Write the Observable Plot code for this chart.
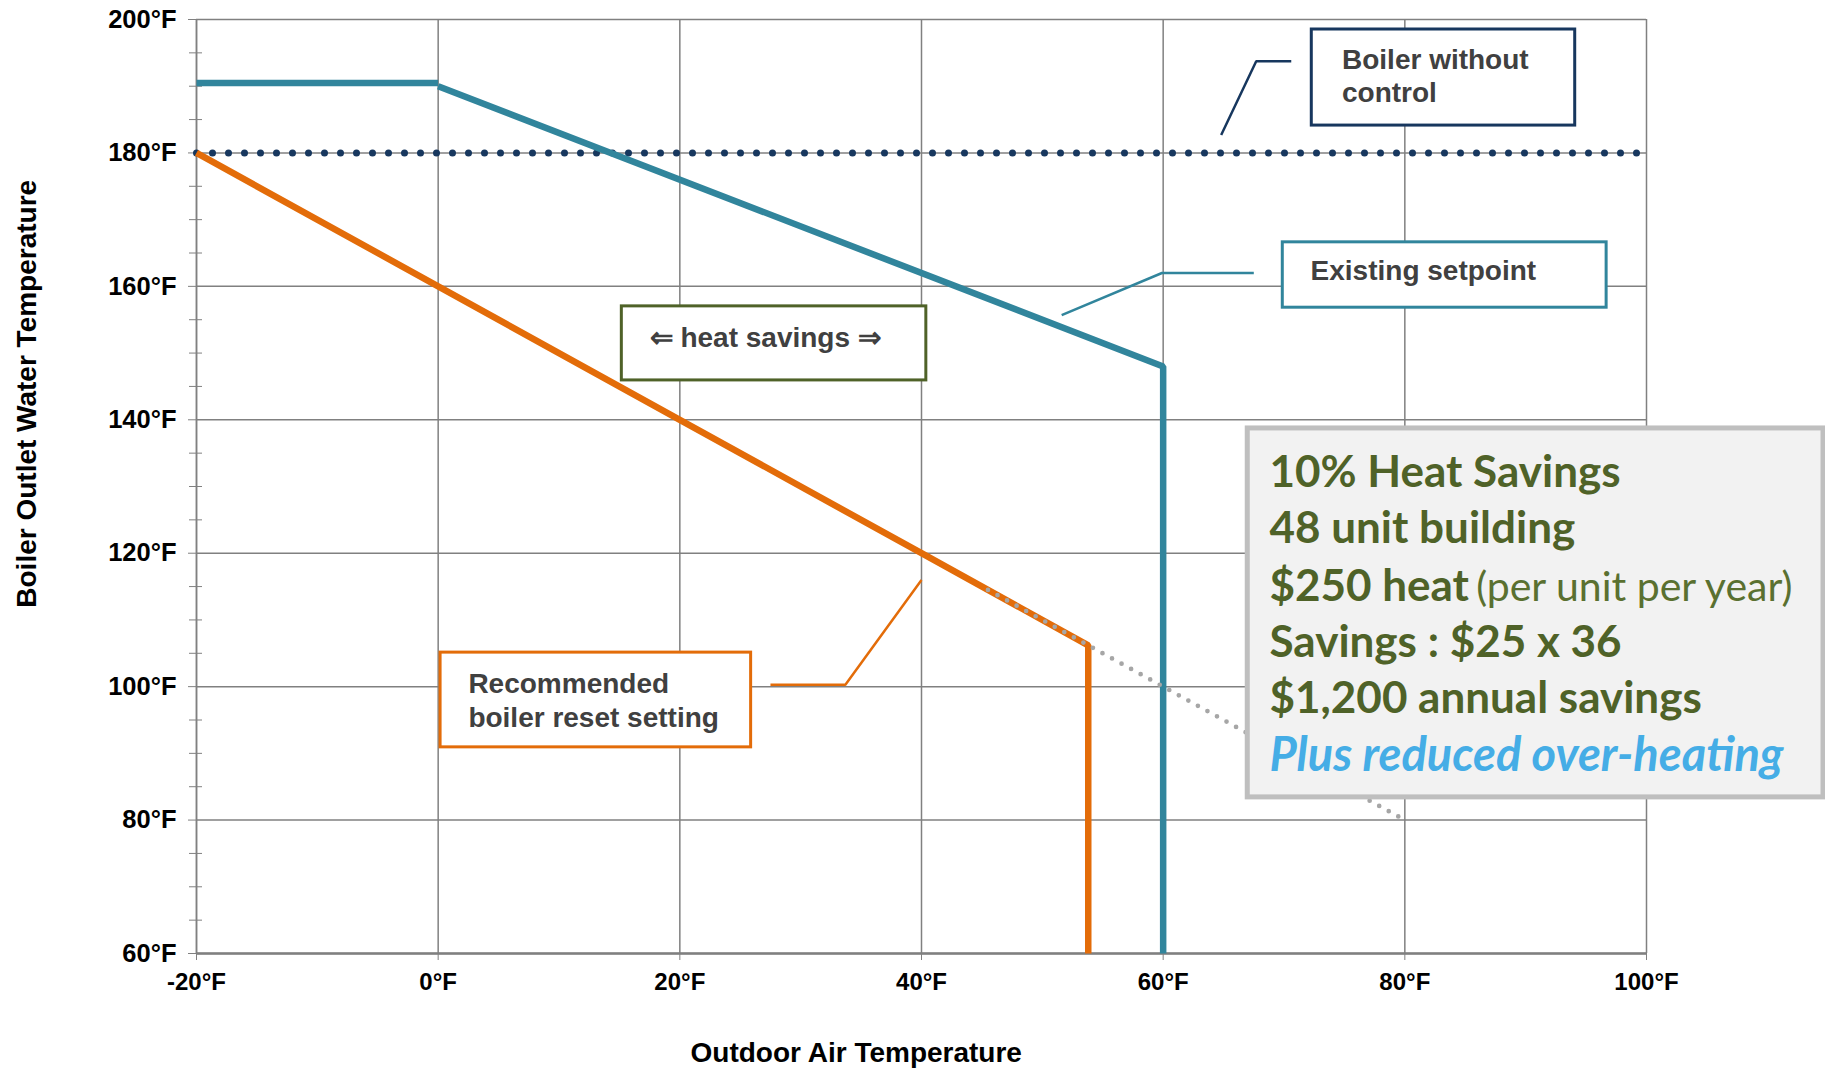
<!DOCTYPE html>
<html>
<head>
<meta charset="utf-8">
<script src="https://cdn.jsdelivr.net/npm/d3@7"></script>
<script src="https://cdn.jsdelivr.net/npm/@observablehq/plot@0.6"></script>
<style>
  html, body { margin: 0; padding: 0; background: #ffffff; }
  #chart svg { display: block; }
</style>
</head>
<body>
<div id="chart"></div>
<script>
// Boiler outlet water temperature (°F) against outdoor air temperature (°F)

// Existing setpoint curve
const existingFlatX = [-20, 0];
const existingFlatY = [190.5, 190.5];
const existingX = [0, 60, 60];
const existingY = [190, 148, 60];

// Recommended boiler reset curve
const recommendedX = [-20, 0, 20, 40, 53.8, 53.8];
const recommendedY = [180, 160, 140, 120, 106.2, 60];

// Continuation of the reset slope beyond the cut-off
const extensionX = [45.5, 80];
const extensionY = [114.5, 80];

// Boiler without control: fixed 180°F
const noControlX = [-20, 100];
const noControlY = [180, 180];

// Axis ticks
const xTicks = [-20, 0, 20, 40, 60, 80, 100];
const yTicks = [60, 80, 100, 120, 140, 160, 180, 200];
const yMinorTicks = [65, 70, 75, 85, 90, 95, 105, 110, 115, 125, 130, 135, 145, 150, 155, 165, 170, 175, 185, 190, 195];

// Text
const xTitle = "Outdoor Air Temperature";
const yTitle = "Boiler Outlet Water Temperature";
const savingsLines = ["10% Heat Savings", "48 unit building", "$250 heat", "Savings : $25 x 36", "$1,200 annual savings"];
const savingsNote = "(per unit per year)";
const savingsExtra = "Plus reduced over-heating";

const pts = (xs, ys) => xs.map((x, i) => ({x, y: ys[i]}));

const TEAL = "#31859C";
const ORANGE = "#E36C09";
const NAVY = "#17375E";
const OLIVE = "#4F6228";
const GRID = "#808080";
const LABEL = "#404040";

// Callout boxes (data coordinates)
const callouts = [
  {x1: 72.3, x2: 94.1, y1: 184.1, y2: 198.5, color: NAVY, tx: 74.8, ty: 187.6, text: "Boiler without\ncontrol"},
  {x1: 69.9, x2: 96.7, y1: 156.8, y2: 166.6, color: TEAL, tx: 72.2, ty: 161.0, text: "Existing setpoint"},
  {x1: 15.2, x2: 40.4, y1: 145.9, y2: 157.0, color: OLIVE, tx: 17.5, ty: 150.9, text: "⇐ heat savings ⇒"},
  {x1: 0.2, x2: 25.9, y1: 90.9, y2: 105.1, color: ORANGE, tx: 2.5, ty: 94.0, text: "Recommended\nboiler reset setting"}
];
const leaders = [
  {color: NAVY, xs: [64.8, 67.7, 70.6], ys: [182.7, 193.75, 193.75]},
  {color: TEAL, xs: [51.6, 59.9, 67.5], ys: [155.7, 162.0, 162.0]},
  {color: ORANGE, xs: [27.5, 33.7, 40.0], ys: [100.3, 100.3, 116.0]}
];
const savingsBox = {x1: 67.0, x2: 114.65, y1: 83.4, y2: 138.7};
const savingsX = 68.8;
const savingsY = [130.0, 121.6, 112.9, 104.5, 96.0];
const savingsNoteX = 85.9;
const savingsExtraY = 87.4;

const lineStyle = {x: "x", y: "y", strokeLinejoin: "miter", strokeLinecap: "butt"};
const savingsFont = "Lato, 'Open Sans', sans-serif";

const chart = Plot.plot({
  width: 1825,
  height: 1071,
  marginLeft: 196,
  marginRight: 179,
  marginTop: 19,
  marginBottom: 118,
  x: {domain: [-20, 100]},
  y: {domain: [60, 200]},
  style: {
    fontFamily: "'Liberation Sans', Arial, sans-serif",
    fontSize: "24px",
    fontWeight: "bold",
    color: "#000",
    background: "#fff",
    overflow: "visible"
  },
  marks: [
    Plot.gridX(xTicks, {stroke: GRID, strokeOpacity: 1, strokeWidth: 1.5}),
    Plot.gridY(yTicks, {stroke: GRID, strokeOpacity: 1, strokeWidth: 1.5}),
    Plot.ruleY([60], {stroke: GRID, strokeWidth: 2.5}),
    Plot.ruleX([-20], {stroke: GRID, strokeWidth: 1.5}),
    Plot.axisX(xTicks, {tickSize: 7, tickPadding: 12, tickFormat: d => `${d}°F`, label: null, stroke: GRID, fill: "#000", fontSize: 24}),
    Plot.axisY(yTicks, {tickSize: 8, tickPadding: 12, tickFormat: d => `${d}°F`, label: null, stroke: GRID, fill: "#000", fontSize: 25.5}),
    Plot.axisY(yMinorTicks, {tickSize: 13, dx: 6, tickFormat: () => "", label: null, stroke: GRID}),

    // axis titles
    Plot.text([xTitle], {x: () => 34.6, y: () => 43.7, text: d => d, lineAnchor: "bottom", fontSize: 28, fill: "#000"}),
    Plot.text([yTitle], {x: () => -34.0, y: () => 143.9, text: d => d, rotate: -90, fontSize: 28, fill: "#000"}),

    // series
    Plot.line(pts(noControlX, noControlY), {...lineStyle, stroke: NAVY, strokeWidth: 7, strokeDasharray: "0,16", strokeLinecap: "round"}),
    Plot.line(pts(existingFlatX, existingFlatY), {...lineStyle, stroke: TEAL, strokeWidth: 6.5}),
    Plot.line(pts(existingX, existingY), {...lineStyle, stroke: TEAL, strokeWidth: 6.5}),
    Plot.line(pts(recommendedX, recommendedY), {...lineStyle, stroke: ORANGE, strokeWidth: 6.5}),
    Plot.line(pts(extensionX, extensionY), {...lineStyle, stroke: "#A6A6A6", strokeWidth: 4.7, strokeDasharray: "0,10.9", strokeLinecap: "round"}),

    // callouts
    ...leaders.map(l => Plot.line(pts(l.xs, l.ys), {...lineStyle, stroke: l.color, strokeWidth: 2.5})),
    ...callouts.map(c => Plot.rect([c], {x1: "x1", x2: "x2", y1: "y1", y2: "y2", fill: "#fff", stroke: c.color, strokeWidth: 3})),
    ...callouts.map(c => Plot.text([c], {x: "tx", y: "ty", text: "text", textAnchor: "start", lineAnchor: "bottom", lineHeight: 1.2, fontSize: 28, fill: LABEL})),

    // savings summary
    Plot.rect([savingsBox], {x1: "x1", x2: "x2", y1: "y1", y2: "y2", fill: "#F2F2F2", stroke: "#BFBFBF", strokeWidth: 5}),
    Plot.text(savingsLines, {x: () => savingsX, y: (d, i) => savingsY[i], text: d => d, textAnchor: "start", lineAnchor: "bottom",
      fontFamily: savingsFont, fontWeight: "bold", fontSize: 44, fill: OLIVE}),
    Plot.text([savingsNote], {x: () => savingsNoteX, y: () => savingsY[2], text: d => d, textAnchor: "start", lineAnchor: "bottom",
      fontFamily: savingsFont, fontWeight: "normal", fontSize: 41, fill: "#5A7030"}),
    Plot.text([savingsExtra], {x: () => savingsX, y: () => savingsExtraY, text: d => d, textAnchor: "start", lineAnchor: "bottom",
      fontFamily: savingsFont, fontWeight: "bold", fontStyle: "italic", fontSize: 47, fill: "#45ADE6"})
  ]
});

document.getElementById("chart").appendChild(chart);
</script>
</body>
</html>
